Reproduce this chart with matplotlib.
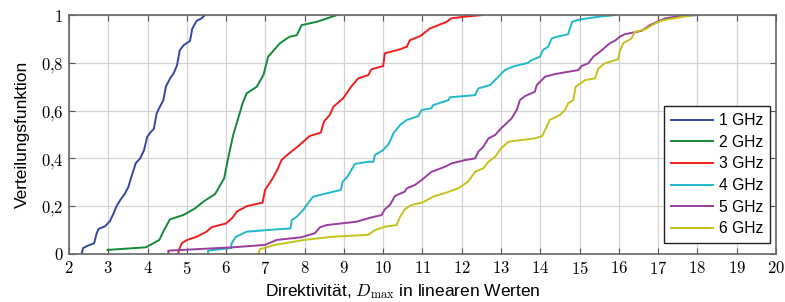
import matplotlib
matplotlib.use('Agg')
import matplotlib.pyplot as plt
from matplotlib.ticker import FixedLocator, FixedFormatter

plt.rcParams['mathtext.fontset'] = 'cm'
plt.rcParams['font.family'] = ['Liberation Sans', 'DejaVu Sans']

labels = ['1 GHz', '2 GHz', '3 GHz', '4 GHz', '5 GHz', '6 GHz']
colors = ['#3548a0', '#138a38', '#f01f1f', '#1fb9c9', '#9a3d9e', '#c4c21c']

# (Dmax, CDF)
x_1ghz = [2.32, 2.36, 2.47, 2.64, 2.70, 2.75, 2.92, 3.04, 3.13, 3.21, 3.31, 3.42, 3.51, 3.59, 3.70,
          3.81, 3.91, 3.99, 4.08, 4.16, 4.23, 4.30, 4.40, 4.47, 4.57, 4.67, 4.75, 4.82, 4.92, 5.08,
          5.14, 5.25, 5.37, 5.46]
y_1ghz = [0.0, 0.025, 0.034, 0.045, 0.084, 0.105, 0.116, 0.137, 0.168, 0.2, 0.227, 0.252, 0.28, 0.324, 0.38,
          0.4, 0.434, 0.49, 0.51, 0.524, 0.587, 0.612, 0.643, 0.702, 0.734, 0.758, 0.79, 0.853, 0.874, 0.892,
          0.944, 0.976, 0.986, 1.0]

x_2ghz = [2.98, 3.96, 4.30, 4.42, 4.57, 4.91, 5.21, 5.42, 5.72, 5.95, 6.06, 6.18, 6.27, 6.42, 6.52,
          6.78, 6.95, 7.07, 7.37, 7.61, 7.80, 7.92, 8.31, 8.82]
y_2ghz = [0.017, 0.028, 0.059, 0.1, 0.145, 0.163, 0.191, 0.219, 0.251, 0.317, 0.407, 0.498, 0.547, 0.631, 0.672,
          0.70, 0.749, 0.826, 0.882, 0.909, 0.916, 0.958, 0.972, 1.0]

x_3ghz = [4.78, 4.80, 4.87, 5.01, 5.25, 5.50, 5.63, 6.00, 6.17, 6.27, 6.52, 6.93, 6.99, 7.16, 7.30,
          7.41, 7.58, 7.84, 8.13, 8.41, 8.49, 8.64, 8.73, 8.98, 9.17, 9.36, 9.62, 9.70, 10.0, 10.04,
          10.43, 10.60, 10.68, 10.94, 11.19, 11.62, 11.72, 12.04, 12.51]
y_3ghz = [0.0, 0.017, 0.045, 0.059, 0.072, 0.093, 0.112, 0.128, 0.153, 0.177, 0.20, 0.215, 0.268, 0.31, 0.351,
          0.393, 0.418, 0.452, 0.494, 0.508, 0.554, 0.582, 0.616, 0.652, 0.697, 0.735, 0.749, 0.773, 0.787, 0.84,
          0.857, 0.868, 0.895, 0.912, 0.944, 0.972, 0.986, 0.993, 1.0]

x_4ghz = [5.54, 5.54, 6.13, 6.13, 6.18, 6.25, 6.52, 7.03, 7.64, 7.67, 7.80, 7.96, 8.18, 8.22, 8.56,
          8.92, 8.97, 9.09, 9.28, 9.62, 9.75, 9.79, 10.0, 10.15, 10.26, 10.43, 10.60, 10.89, 10.98, 11.23,
          11.27, 11.66, 11.70, 12.34, 12.42, 12.72, 12.89, 13.10, 13.35, 13.69, 13.76, 13.99, 14.07, 14.20,
          14.29, 14.41, 14.71, 14.81, 15.01, 15.48, 15.90]
y_4ghz = [0.0, 0.014, 0.025, 0.04, 0.056, 0.072, 0.093, 0.10, 0.107, 0.142, 0.156, 0.184, 0.233, 0.24, 0.254,
          0.268, 0.303, 0.324, 0.377, 0.386, 0.386, 0.414, 0.435, 0.463, 0.505, 0.54, 0.561, 0.577, 0.603, 0.61,
          0.623, 0.644, 0.656, 0.665, 0.693, 0.707, 0.735, 0.77, 0.787, 0.80, 0.81, 0.826, 0.854, 0.868,
          0.902, 0.909, 0.92, 0.972, 0.982, 0.993, 1.0]

x_5ghz = [4.53, 4.53, 6.18, 6.99, 7.29, 7.92, 8.26, 8.39, 8.56, 9.32, 9.70, 9.96, 10.04, 10.17, 10.30,
          10.55, 10.60, 10.81, 10.98, 11.23, 11.57, 11.74, 12.08, 12.34, 12.42, 12.55, 12.68, 12.85, 13.0,
          13.14, 13.27, 13.40, 13.48, 13.61, 13.86, 13.91, 14.12, 14.37, 14.97, 15.05, 15.22, 15.35, 15.52,
          15.77, 15.90, 16.02, 16.15, 16.33, 16.58, 16.79, 17.17, 17.55, 17.98]
y_5ghz = [0.0, 0.014, 0.028, 0.038, 0.059, 0.07, 0.087, 0.112, 0.121, 0.135, 0.153, 0.163, 0.187, 0.205, 0.243,
          0.261, 0.275, 0.289, 0.31, 0.344, 0.365, 0.379, 0.393, 0.40, 0.428, 0.449, 0.484, 0.498, 0.526,
          0.547, 0.568, 0.603, 0.644, 0.661, 0.679, 0.707, 0.742, 0.753, 0.77, 0.787, 0.798, 0.826, 0.847,
          0.882, 0.893, 0.909, 0.92, 0.926, 0.934, 0.958, 0.986, 0.996, 1.0]

x_6ghz = [6.82, 6.86, 7.24, 8.0, 8.69, 9.62, 9.79, 10.04, 10.34, 10.43, 10.55, 10.72, 11.01, 11.27, 11.61,
          11.91, 12.16, 12.34, 12.55, 12.68, 12.85, 13.0, 13.19, 13.86, 14.05, 14.24, 14.50, 14.63, 14.71,
          14.84, 14.90, 15.14, 15.39, 15.48, 15.64, 15.98, 16.02, 16.11, 16.32, 16.41, 16.66, 16.92, 17.13,
          17.64, 17.90]
y_6ghz = [0.0, 0.02, 0.038, 0.059, 0.072, 0.08, 0.10, 0.114, 0.121, 0.156, 0.187, 0.205, 0.216, 0.24, 0.257,
          0.275, 0.303, 0.344, 0.359, 0.386, 0.407, 0.442, 0.47, 0.484, 0.494, 0.561, 0.582, 0.603, 0.631,
          0.644, 0.70, 0.728, 0.735, 0.777, 0.798, 0.815, 0.847, 0.882, 0.902, 0.93, 0.94, 0.965, 0.979,
          0.993, 1.0]

xs = [x_1ghz, x_2ghz, x_3ghz, x_4ghz, x_5ghz, x_6ghz]
ys = [y_1ghz, y_2ghz, y_3ghz, y_4ghz, y_5ghz, y_6ghz]

x_ticks = list(range(2, 21))
y_ticks = [0, 0.2, 0.4, 0.6, 0.8, 1]
y_ticklabels = ['0', '0,2', '0,4', '0,6', '0,8', '1']

fig = plt.figure(figsize=(7.85, 3.02), dpi=100)
ax = fig.add_axes([0.0879, 0.159, 0.9006, 0.791])

for x, y, lab, c in zip(xs, ys, labels, colors):
    ax.plot(x, y, color=c, lw=1.4, label=lab)

ax.set_xlim(2, 20)
ax.set_ylim(0, 1)
ax.xaxis.set_major_locator(FixedLocator(x_ticks))
ax.xaxis.set_major_formatter(FixedFormatter(['$%d$' % t for t in x_ticks]))
ax.yaxis.set_major_locator(FixedLocator(y_ticks))
ax.yaxis.set_major_formatter(FixedFormatter(['$%s$' % t.replace(',', '{,}') for t in y_ticklabels]))
ax.tick_params(direction='in', length=4, width=0.8, color='#555555', labelsize=12,
               top=True, right=True, pad=4)
ax.grid(True, color='#d4d4d4', lw=0.9)
ax.set_axisbelow(True)
for s in ax.spines.values():
    s.set_color('#666666')
    s.set_linewidth(1.2)

ax.set_xlabel(r'Direktivität, $D_\mathrm{max}$ in linearen Werten', fontsize=12.5)
ax.xaxis.set_label_coords(0.4725, -0.118)
ax.set_ylabel('Verteilungsfunktion', fontsize=12.5, labelpad=8)

leg = ax.legend(loc='lower right', fontsize=11.3, frameon=True, fancybox=False,
                borderpad=0.45, handlelength=2.7, handletextpad=0.35, labelspacing=0.42,
                borderaxespad=0.3, bbox_to_anchor=(0.9985, 0.025))
leg.get_frame().set_edgecolor('#222222')
leg.get_frame().set_linewidth(1.0)
leg.get_frame().set_alpha(1)

fig.savefig('out.png', dpi=100)
